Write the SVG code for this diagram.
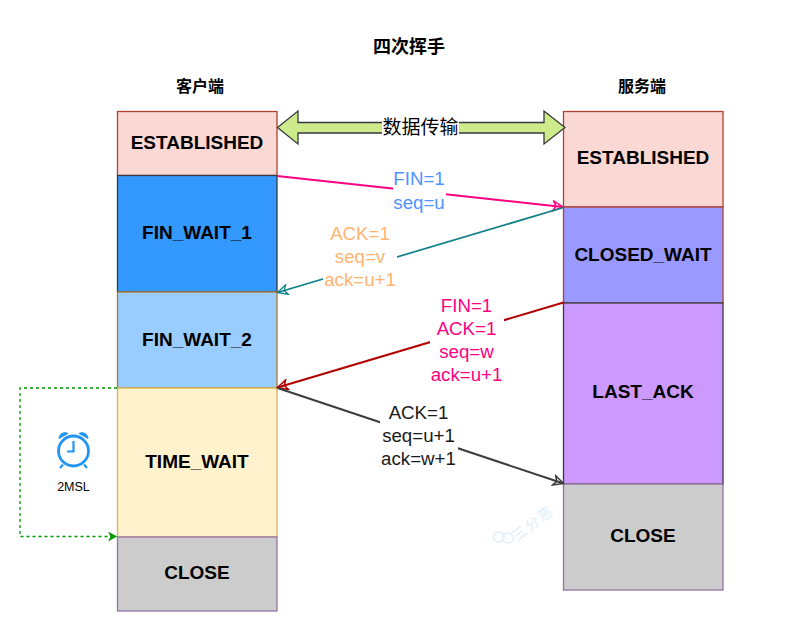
<svg xmlns="http://www.w3.org/2000/svg" width="794" height="644" viewBox="0 0 794 644">
<style>
text{font-family:"Liberation Sans","Noto Sans CJK SC",sans-serif;text-anchor:middle}
.st{font-size:19px;font-weight:bold;fill:#000}
.hd{font-size:16px;font-weight:bold;fill:#000}
.lb{font-size:18.700px}
rect{stroke-width:1.300}
.c{fill:none}
</style>
<defs>
<marker id="aPink" markerUnits="userSpaceOnUse" markerWidth="14" markerHeight="14" refX="11" refY="6" orient="auto"><path d="M1 1L11 6L1 11L4 6Z" fill="none" stroke="#ff0080" stroke-width="1.500"/></marker>
<marker id="aTeal" markerUnits="userSpaceOnUse" markerWidth="14" markerHeight="14" refX="11" refY="6" orient="auto"><path d="M1 1L11 6L1 11L4 6Z" fill="none" stroke="#0e8088" stroke-width="1.300"/></marker>
<marker id="aRed" markerUnits="userSpaceOnUse" markerWidth="14" markerHeight="14" refX="11" refY="6" orient="auto"><path d="M1 1L11 6L1 11L4 6Z" fill="none" stroke="#b20000" stroke-width="1.500"/></marker>
<marker id="aDark" markerUnits="userSpaceOnUse" markerWidth="14" markerHeight="14" refX="11" refY="6" orient="auto"><path d="M1 1L11 6L1 11L4 6Z" fill="none" stroke="#3c3c3c" stroke-width="1.500"/></marker>
<marker id="aGreen" markerUnits="userSpaceOnUse" markerWidth="14" markerHeight="14" refX="9" refY="5" orient="auto"><path d="M0 0L9 5L0 10L2.500 5Z" fill="#009900"/></marker>
</defs>

<text id="title" x="409" y="53" class="hd" style="font-size:18px">四次挥手</text>
<text id="client" x="200" y="92" class="hd">客户端</text>
<text id="server" x="642" y="92" class="hd">服务端</text>

<g id="c-established"><rect x="117.500" y="111.500" width="159.500" height="64" fill="#fad9d5" stroke="#ae4132"/><text x="197" y="149" class="st">ESTABLISHED</text></g>
<g id="c-finwait1"><rect x="117.500" y="175.500" width="159.500" height="116.500" fill="#3399ff" stroke="#36393d"/><text x="197" y="239" class="st">FIN_WAIT_1</text></g>
<g id="c-finwait2"><rect x="117.500" y="292" width="159.500" height="96" fill="#99ccff" stroke="#b1792b"/><text x="197" y="346" class="st">FIN_WAIT_2</text></g>
<g id="c-timewait"><rect x="117.500" y="388" width="159.500" height="149" fill="#fff2cc" stroke="#d6b656"/><text x="197" y="468" class="st">TIME_WAIT</text></g>
<g id="c-close"><rect x="117.500" y="537" width="159.500" height="74" fill="#cccccc" stroke="#9673a6"/><text x="197" y="579" class="st">CLOSE</text></g>

<g id="s-established"><rect x="563.500" y="111.500" width="159.500" height="95.500" fill="#fad9d5" stroke="#ae4132"/><text x="643" y="164" class="st">ESTABLISHED</text></g>
<g id="s-closedwait"><rect x="563.500" y="207" width="159.500" height="96" fill="#9999ff" stroke="#ae4132"/><text x="643" y="261" class="st">CLOSED_WAIT</text></g>
<g id="s-lastack"><rect x="563.500" y="303" width="159.500" height="181" fill="#cc99ff" stroke="#36393d"/><text x="643" y="398" class="st">LAST_ACK</text></g>
<g id="s-close"><rect x="563.500" y="484" width="159.500" height="106" fill="#cccccc" stroke="#9673a6"/><text x="643" y="542" class="st">CLOSE</text></g>

<g id="connectors">
<path id="transfer" d="M277.500 127.500L298 111V122.500H544V111L565 127.500L544 144V133H298V144Z" fill="#cdeb8b" stroke="#36393d" stroke-width="1.300"/>
<path class="c" d="M277 176L563 207" stroke="#ff0080" stroke-width="2" marker-end="url(#aPink)"/>
<path class="c" d="M563.500 207.500L277.500 292.500" stroke="#0e8088" stroke-width="1.700" marker-end="url(#aTeal)"/>
<path class="c" d="M563.500 302.500L277.500 387.500" stroke="#b20000" stroke-width="2" marker-end="url(#aRed)"/>
<path class="c" d="M277.500 388L563.500 483.500" stroke="#3c3c3c" stroke-width="2" marker-end="url(#aDark)"/>
<path class="c" d="M117 388H20V536.500H117" stroke="#009900" stroke-width="1.300" stroke-dasharray="3 3" marker-end="url(#aGreen)"/>
</g>

<g id="labels">
<rect x="382" y="116" width="77" height="24" fill="#fff" stroke="none"/>
<text x="420.500" y="134" class="lb" style="font-size:19px" fill="#000">数据传输</text>
<rect x="393" y="168" width="53" height="46" fill="#fff" stroke="none"/>
<text x="419" y="185" class="lb" fill="#4d94ff">FIN=1</text>
<text x="419" y="209" class="lb" fill="#4d94ff">seq=u</text>
<rect x="323" y="224" width="74" height="68" fill="#fff" stroke="none"/>
<text x="360" y="240" class="lb" fill="#ffb570">ACK=1</text>
<text x="360" y="263" class="lb" fill="#ffb570">seq=v</text>
<text x="360" y="286" class="lb" fill="#ffb570">ack=u+1</text>
<rect x="430" y="296" width="74" height="92" fill="#fff" stroke="none"/>
<text x="466.500" y="312" class="lb" fill="#ff0080">FIN=1</text>
<text x="466.500" y="335" class="lb" fill="#ff0080">ACK=1</text>
<text x="466.500" y="358" class="lb" fill="#ff0080">seq=w</text>
<text x="466.500" y="381" class="lb" fill="#ff0080">ack=u+1</text>
<rect x="380" y="402" width="78" height="68" fill="#fff" stroke="none"/>
<text x="418.500" y="419" class="lb" fill="#1a1a1a">ACK=1</text>
<text x="418.500" y="442" class="lb" fill="#1a1a1a">seq=u+1</text>
<text x="418.500" y="465" class="lb" fill="#1a1a1a">ack=w+1</text>
</g>

<g id="timer">
<circle cx="73.500" cy="451" r="15" fill="none" stroke="#2196f3" stroke-width="2.800"/>
<path d="M73.500 441V451.500H67M60 468L63 464.500M87 468L84 464.500" fill="none" stroke="#2196f3" stroke-width="2.200"/>
<path d="M59 438.500A6 6 0 0 1 68 433.500ZM79 433.500A6 6 0 0 1 88 438.500Z" fill="#2196f3" stroke="#2196f3" stroke-width="1"/>
<text x="73.500" y="491" style="font-size:12.500px" fill="#000">2MSL</text>
</g>

<g id="watermark" opacity="0.7">
<ellipse cx="499" cy="537" rx="5.500" ry="5" fill="none" stroke="#cfe6f7" stroke-width="1.300"/>
<ellipse cx="508" cy="538" rx="5.500" ry="5" fill="none" stroke="#cfe6f7" stroke-width="1.300"/>
<text transform="translate(536 527) rotate(-37)" x="0" y="0" style="font-size:14px;letter-spacing:2px" fill="#cfe6f7">三分恶</text>
</g>
</svg>
